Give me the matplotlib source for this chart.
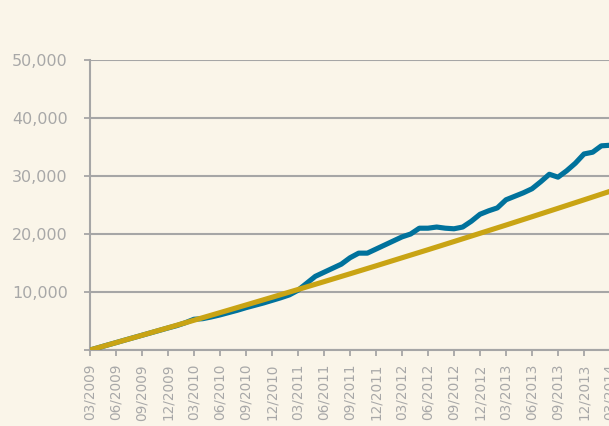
import matplotlib
matplotlib.use("Agg")
import matplotlib.pyplot as plt

# ---- data ----
tick_labels = ["03/2009", "06/2009", "09/2009", "12/2009", "03/2010", "06/2010",
               "09/2010", "12/2010", "03/2011", "06/2011", "09/2011", "12/2011",
               "03/2012", "06/2012", "09/2012", "12/2012", "03/2013", "06/2013",
               "09/2013", "12/2013", "03/2014"]

# monthly index 0 = 03/2009
blue_values = [0, 420, 850, 1270, 1700, 2120, 2540, 2960, 3380, 3800,
               4200, 4700, 5300, 5400, 5700, 6050, 6450, 6850, 7300, 7700,
               8100, 8550, 9000, 9500, 10300, 11500, 12700, 13400, 14100, 14800,
               15900, 16700, 16700, 17400, 18100, 18800, 19500, 20000, 21000, 21000,
               21200, 21000, 20900, 21200, 22200, 23400, 24000, 24500, 25900, 26500,
               27100, 27800, 29000, 30300, 29800, 30900, 32200, 33800, 34100, 35200,
               35300]

# quarterly values of the straight (gold) line
gold_values = [0, 1270, 2540, 3830, 5130, 6440, 7760, 9090, 10430, 11780,
               13140, 14510, 15900, 17290, 18700, 20120, 21540, 22980, 24430,
               25890, 27360]

BG = "#faf5e9"
BLUE = "#00729c"
GOLD = "#c9a414"
GRID = "#a6a6a6"
TXT = "#a8a8a8"

W, H = 609, 426
fig = plt.figure(figsize=(W / 100, H / 100), dpi=100)
fig.patch.set_facecolor(BG)

x0, x1 = 90, 610
y0, y1 = 350, 60
ax = fig.add_axes([x0 / W, (H - y0) / H, (x1 - x0) / W, (y0 - y1) / H])
ax.set_facecolor(BG)

blue_x = list(range(len(blue_values)))
gold_x = [3 * i for i in range(len(gold_values))]

ax.plot(blue_x, blue_values, color=BLUE, lw=3.7, solid_capstyle="butt",
        solid_joinstyle="round", zorder=3, clip_on=True)
ax.plot(gold_x, gold_values, color=GOLD, lw=3.7, solid_capstyle="butt",
        zorder=4, clip_on=True)

ax.set_xlim(0, 60)
ax.set_ylim(0, 50000)

ax.set_yticks([0, 10000, 20000, 30000, 40000, 50000])
ax.set_yticklabels(["", "10,000", "20,000", "30,000", "40,000", "50,000"])
ax.set_xticks(gold_x)
ax.set_xticklabels(tick_labels, rotation=90)

ax.yaxis.grid(True, color=GRID, lw=1.5, zorder=1)
ax.set_axisbelow(True)
for s in ["top", "right"]:
    ax.spines[s].set_visible(False)
for s in ["left", "bottom"]:
    ax.spines[s].set_color(GRID)
    ax.spines[s].set_linewidth(1.5)

ax.tick_params(axis="y", length=4, width=1.3, color=GRID, pad=12,
               labelsize=11.5, labelcolor=TXT)
ax.tick_params(axis="x", length=4, width=1.3, color=GRID, pad=6,
               labelsize=9.8, labelcolor=TXT)

fig.savefig("out.png", dpi=100, facecolor=BG)
